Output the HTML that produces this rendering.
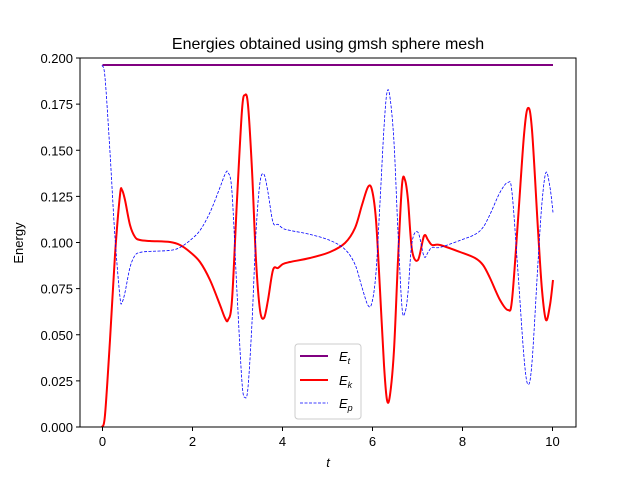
<!DOCTYPE html>
<html><head><meta charset="utf-8"><style>
body{margin:0;background:#fff}
svg{font-family:"Liberation Sans","DejaVu Sans",sans-serif}
</style></head><body>
<svg id="s" width="640" height="480" xmlns="http://www.w3.org/2000/svg">
<rect width="640" height="480" fill="#fff"/>
<text x="328" y="49" font-size="16" text-anchor="middle">Energies obtained using gmsh sphere mesh</text>
<g id="ticks" font-size="13" fill="#000"></g>
<polyline id="et" fill="none" stroke="#800080" stroke-width="2" points="102.5,65 553,65"/>
<path id="ek" fill="none" stroke="#ff0000" stroke-width="2"/>
<path id="ep" fill="none" stroke="#0000ff" stroke-width="0.8" stroke-dasharray="3,1.5"/>
<rect x="80" y="58" width="496" height="369" fill="none" stroke="#000" stroke-width="1"/>
<text x="328" y="467" font-size="13" font-style="italic" text-anchor="middle">t</text>
<text x="23" y="243" font-size="13" text-anchor="middle" transform="rotate(-90 23 243)">Energy</text>
<g>
<rect x="295" y="344" width="66" height="75" rx="3" fill="#fff" stroke="#ccc"/>
<line x1="300" y1="356" x2="328" y2="356" stroke="#800080" stroke-width="2"/>
<text x="339" y="361" font-size="13" font-style="italic">E<tspan font-size="9" dy="3">t</tspan></text>
<line x1="300" y1="380" x2="328" y2="380" stroke="#ff0000" stroke-width="2"/>
<text x="339" y="385" font-size="13" font-style="italic">E<tspan font-size="9" dy="3">k</tspan></text>
<line x1="300" y1="403" x2="328" y2="403" stroke="#0000ff" stroke-width="0.8" stroke-dasharray="3,1.5"/>
<text x="339" y="408" font-size="13" font-style="italic">E<tspan font-size="9" dy="3">p</tspan></text>
</g>
</svg>
<script>
var ns="http://www.w3.org/2000/svg",g=document.getElementById("ticks");
function el(t,a,x){var e=document.createElementNS(ns,t);for(var k in a)e.setAttribute(k,a[k]);if(x!=null)e.textContent=x;g.appendChild(e);}
for(var i=0;i<=5;i++){var x=102.5+i*90;el("line",{x1:x,y1:427,x2:x,y2:431,stroke:"#000"});el("text",{x:x,y:446,"text-anchor":"middle"},String(i*2));}
for(var j=0;j<=8;j++){var y=427-j*46.125;el("line",{x1:76,y1:y,x2:80,y2:y,stroke:"#000"});el("text",{x:73,y:y+5,"text-anchor":"end"},(j*0.025).toFixed(3));}
var k=[[102,427],[105,415],[110,340],[115,255],[120,195],[122,190],[125,200],[130,225],[135,237],[140,240],[150,241],[170,242],[180,245],[190,252],[200,262],[210,280],[220,305],[225,318],[228,320],[232,300],[237,200],[242,110],[245,95],[248,105],[252,170],[256,260],[260,310],[264,318],[268,300],[273,270],[278,268],[283,264],[290,262],[310,258],[330,252],[345,243],[355,228],[362,205],[368,187],[372,190],[376,220],[380,290],[384,365],[387,400],[390,395],[394,350],[398,260],[402,185],[405,180],[408,200],[412,250],[418,260],[424,236],[428,240],[432,245],[440,245],[460,252],[475,258],[483,265],[490,278],[500,300],[508,310],[512,300],[518,220],[524,135],[528,108],[532,130],[538,230],[542,290],[546,320],[550,305],[553,280]];
function cr(p){var d="M"+p[0][0]+","+p[0][1];for(var i=0;i<p.length-1;i++){var a=p[Math.max(0,i-1)],b=p[i],c=p[i+1],e=p[Math.min(p.length-1,i+2)];
d+=" C"+(b[0]+(c[0]-a[0])/6)+","+(b[1]+(c[1]-a[1])/6)+" "+(c[0]-(e[0]-b[0])/6)+","+(c[1]-(e[1]-b[1])/6)+" "+c[0]+","+c[1];}return d;}
document.getElementById("ek").setAttribute("d",cr(k));
document.getElementById("ep").setAttribute("d",cr(k.map(function(p){return [p[0],492.4-p[1]]})));
</script>
</body></html>
